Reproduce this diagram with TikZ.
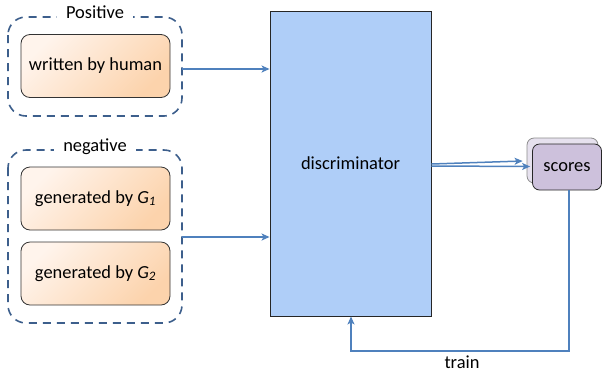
\documentclass[tikz,border=0pt]{standalone}
\usepackage{fontspec}
\setmainfont{Carlito}
\usetikzlibrary{arrows.meta,calc}
\definecolor{conn}{HTML}{4F81BD}
\definecolor{dashc}{HTML}{3D5F8C}
\definecolor{discfill}{HTML}{AFCEF8}
\definecolor{orlight}{HTML}{FFF4EC}
\definecolor{ordark}{HTML}{FCD3AC}
\definecolor{scfront}{HTML}{CDC1DC}
\definecolor{scback}{HTML}{E6E1EE}
\tikzset{
  lbl/.style={font=\fontsize{18.5}{22}\selectfont},
  group/.style={draw=dashc,line width=1.6bp,dash pattern=on 8bp off 6bp,rounded corners=18bp},
  grouplabel/.style={lbl,fill=white,inner xsep=9bp,inner ysep=2bp},
  textbox/.style={lbl,draw=black!80,line width=0.8bp,rounded corners=9bp,shading=axis,top color=orlight,bottom color=ordark,shading angle=45,minimum width=149bp,minimum height=63bp,inner sep=0pt},
  discbox/.style={lbl,draw=black!85,line width=0.9bp,fill=discfill,minimum width=161bp,minimum height=305bp,inner sep=0pt},
  conn/.style={draw=conn,line width=1.5bp,-{Stealth[length=8bp,width=7bp,inset=2bp]}},
  scoreback/.style={draw=black!45,line width=0.8bp,fill=scback,rounded corners=7bp,minimum width=71bp,minimum height=45bp,inner sep=0pt},
  scorefront/.style={lbl,draw=black!85,line width=0.8bp,fill=scfront,rounded corners=7bp,minimum width=69bp,minimum height=46bp,inner sep=0pt},
}
\begin{document}
\begin{tikzpicture}[x=1bp,y=-1bp]
\useasboundingbox (0,0) rectangle (602,373);
% groups
\draw[group] (8,17) rectangle (182,116);
\coordinate (posE) at (182,69);
\node[grouplabel] (poslbl) at (95,12) {Positive};
\draw[group] (8,150) rectangle (182,323);
\coordinate (negE) at (182,237);
\node[grouplabel] (neglbl) at (95,147) {negative};
% text boxes
\node[textbox] (human) at (95.5,66) {written by human};
\node[textbox] (g1) at (95.5,198.5) {generated by \textit{G}\textsubscript{\textit{1}}};
\node[textbox] (g2) at (95.5,273.5) {generated by \textit{G}\textsubscript{\textit{2}}};
% discriminator
\node[discbox] (disc) at (350.5,163.5) {discriminator};
% scores
\node[scoreback] (scb) at (562.5,160.5) {};
\node[scorefront] (sc) at (567,167) {scores};
% connectors
\draw[conn] (posE) -- (posE -| disc.west);
\draw[conn] (negE) -- (negE -| disc.west);
\coordinate (d1) at ($(disc.east)+(0,0.5)$);
\coordinate (d2) at ($(disc.east)+(0,2.5)$);
\draw[conn] (d1) -- ($(scb.west)+(-4,0.5)$);
\draw[conn] (d2) -- ($(sc.west)+(-2,-0.5)$);
\coordinate (tr) at (569,351);
\coordinate (tl) at (351,351);
\draw[conn] (sc.south -| tr) -- (tr) -- (tl) -- (disc.south -| tl);
\node[lbl,anchor=base,inner sep=0pt] (train) at (462,368) {train};
\end{tikzpicture}
\end{document}
